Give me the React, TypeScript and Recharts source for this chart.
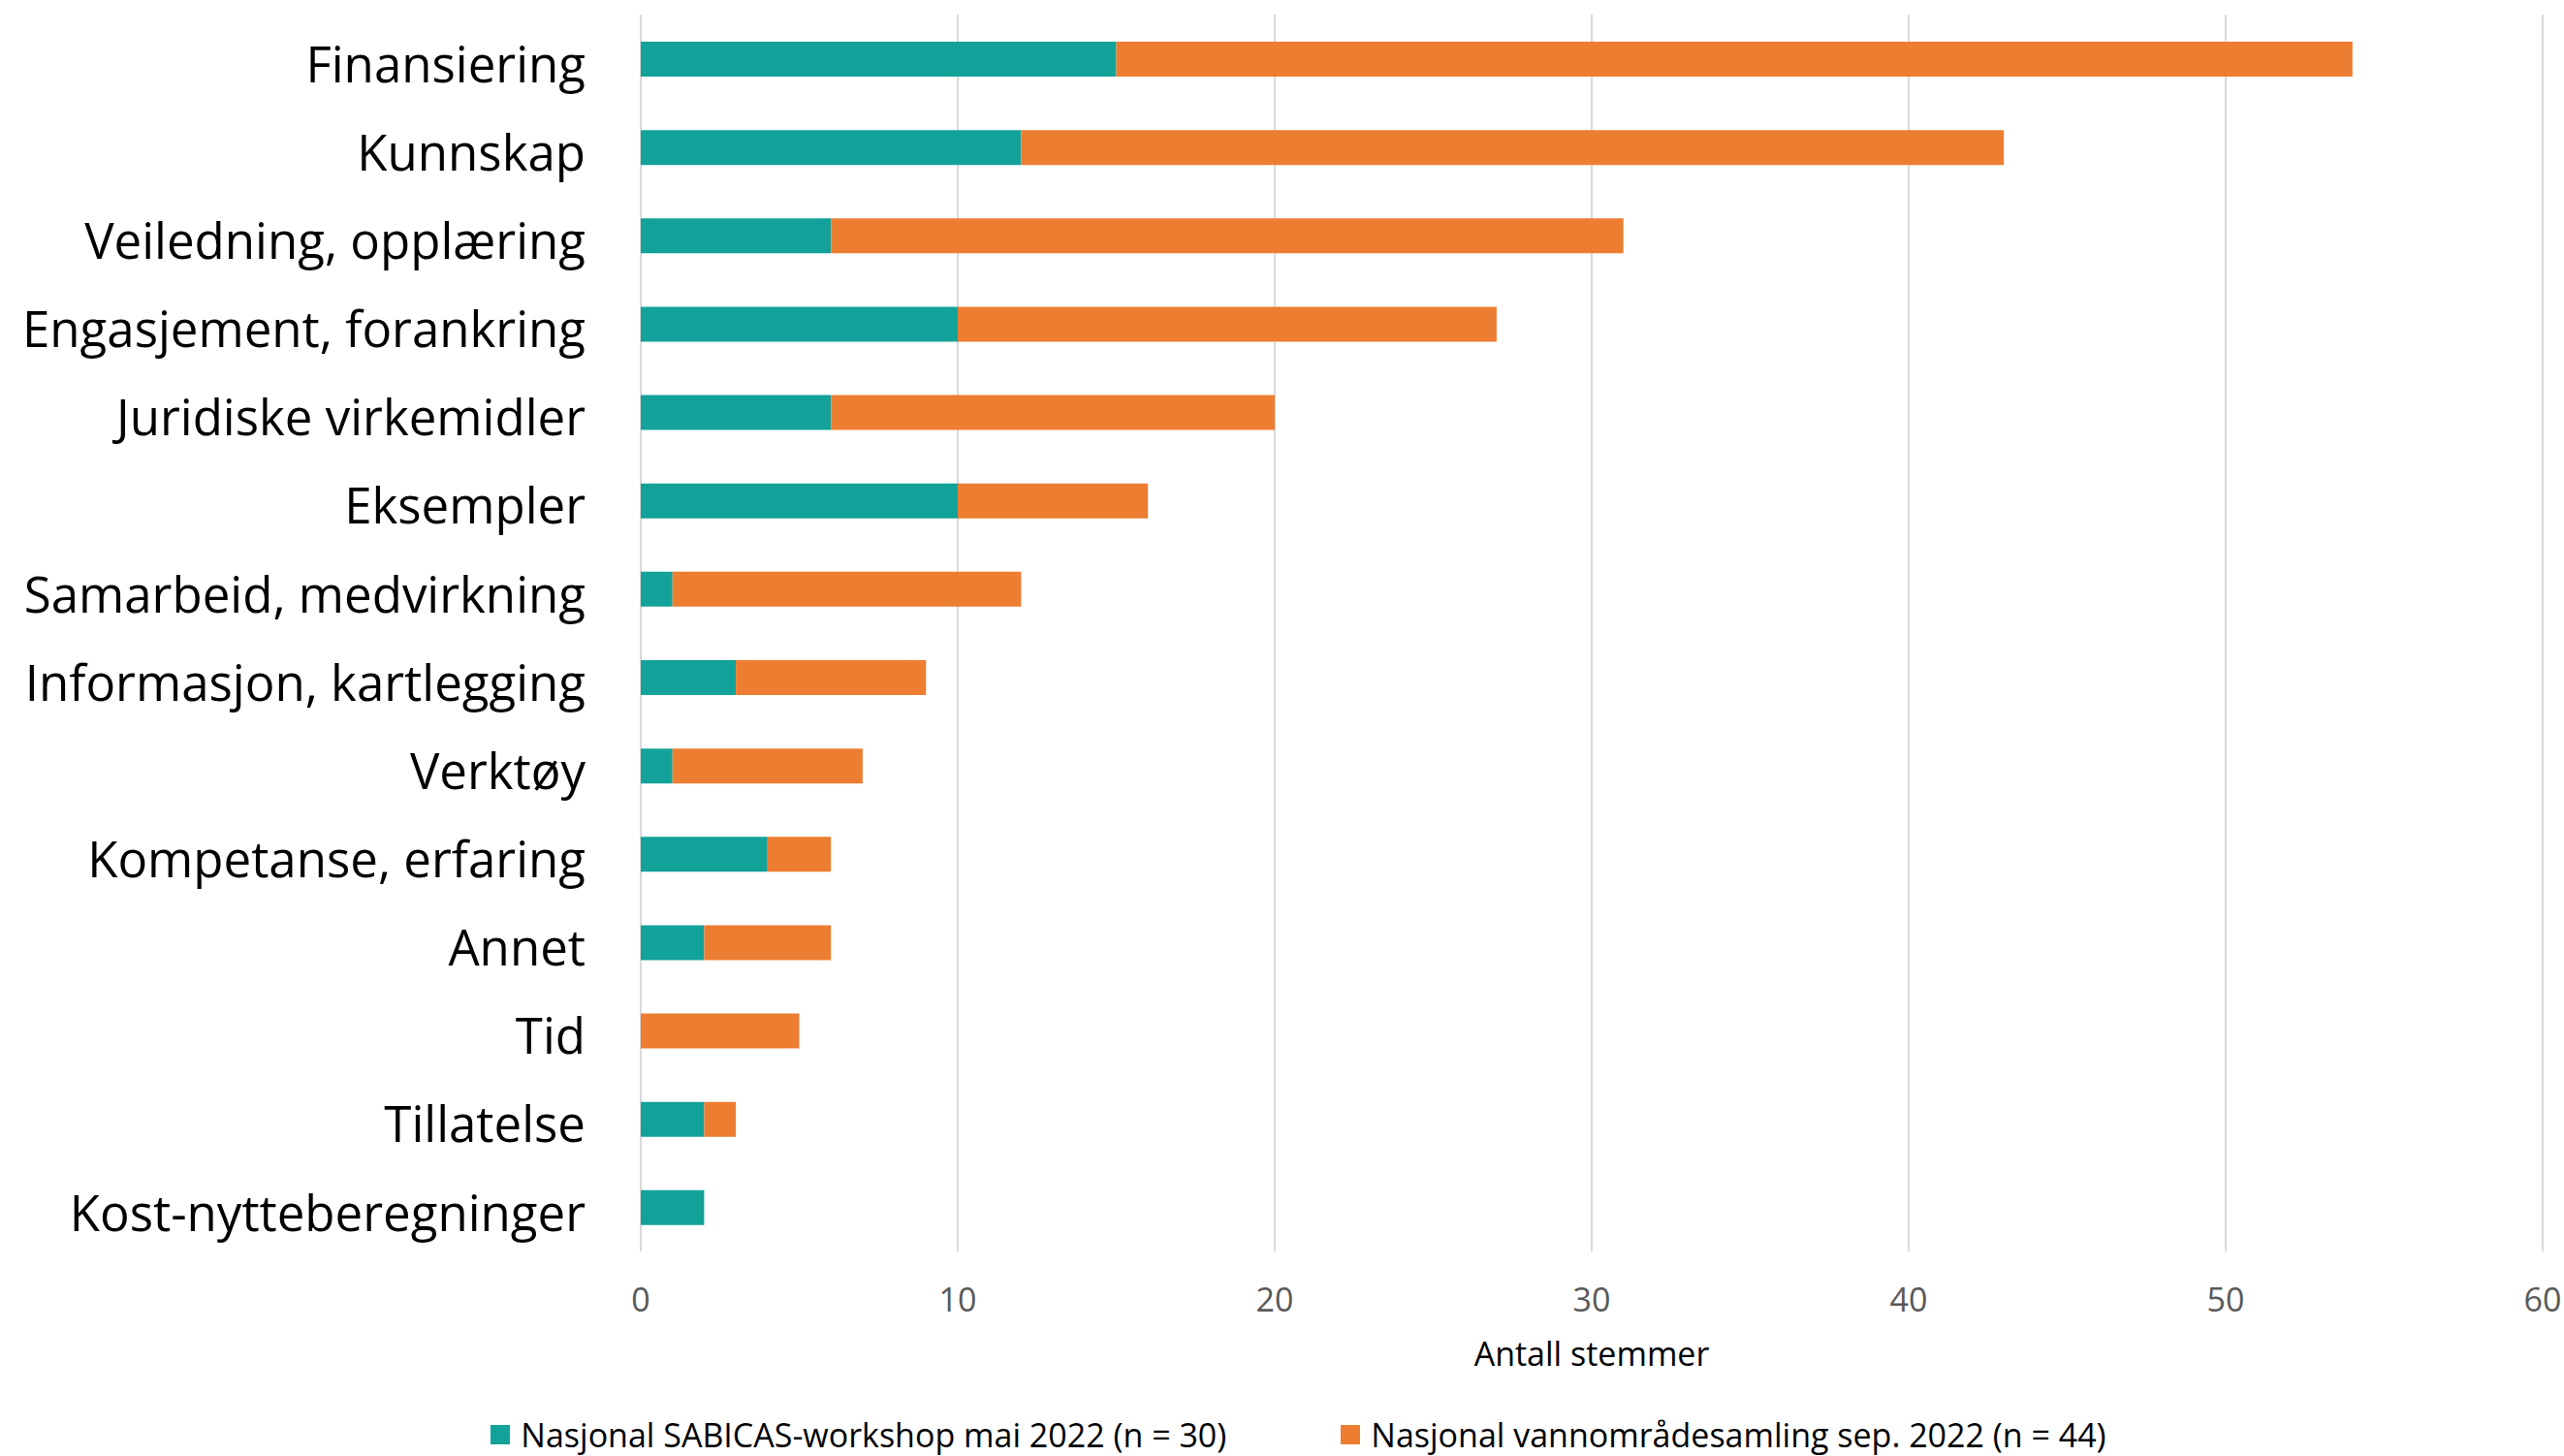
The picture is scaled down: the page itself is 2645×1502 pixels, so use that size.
import React from 'react';
import { BarChart, Bar, XAxis, YAxis, CartesianGrid, Legend } from 'recharts';

const categories = [
  'Finansiering',
  'Kunnskap',
  'Veiledning, opplæring',
  'Engasjement, forankring',
  'Juridiske virkemidler',
  'Eksempler',
  'Samarbeid, medvirkning',
  'Informasjon, kartlegging',
  'Verktøy',
  'Kompetanse, erfaring',
  'Annet',
  'Tid',
  'Tillatelse',
  'Kost-nytteberegninger',
];
const workshopValues = [15, 12, 6, 10, 6, 10, 1, 3, 1, 4, 2, 0, 2, 2];
const samlingValues = [39, 31, 25, 17, 14, 6, 11, 6, 6, 2, 4, 5, 1, 0];
const xTicks = [0, 10, 20, 30, 40, 50, 60];
const seriesNames = [
  'Nasjonal SABICAS-workshop mai 2022 (n = 30)',
  'Nasjonal vannområdesamling sep. 2022 (n = 44)',
];
const seriesColors = ['#13A29A', '#ED7D31'];

const data = categories.map((name, i) => ({
  name,
  workshop: workshopValues[i],
  samling: samlingValues[i],
}));

const FONT = "'Open Sans', sans-serif";

const LegendContent = (props: any) => {
  const payload = props.payload || [];
  return (
    <div
      style={{
        height: 93,
        boxSizing: 'border-box',
        display: 'flex',
        alignItems: 'flex-end',
        justifyContent: 'center',
        paddingBottom: 2,
        paddingLeft: 56,
        fontFamily: FONT,
        fontSize: 34,
        lineHeight: '40px',
        color: '#000',
      }}
    >
      {payload.map((p: any, i: number) => (
        <div
          key={i}
          style={{ display: 'flex', alignItems: 'center', marginRight: i === 0 ? 118 : 0 }}
        >
          <span
            style={{
              display: 'inline-block',
              width: 20,
              height: 20,
              background: p.color,
              marginRight: 11,
            }}
          />
          <span>{p.value}</span>
        </div>
      ))}
    </div>
  );
};

export default function App() {
  return (
    <div style={{ position: 'absolute', left: 0, top: 0, width: 2645, height: 1502, background: '#fff' }}>
      <BarChart
        width={2645}
        height={1502}
        data={data}
        layout="vertical"
        margin={{ top: 15, right: 22, left: 0, bottom: 0 }}
        barCategoryGap={0}
        style={{ fontFamily: FONT }}
      >
        <CartesianGrid horizontal={false} stroke="#d9d9d9" strokeWidth={2} />
        <XAxis
          type="number"
          domain={[0, 60]}
          ticks={xTicks}
          axisLine={false}
          tickLine={false}
          tickSize={0}
          tickMargin={38}
          height={118}
          tick={{ fill: '#595959', fontSize: 34, fontFamily: FONT }}
          label={{ value: 'Antall stemmer', position: 'insideBottom', offset: 0, fill: '#000', fontSize: 34, fontFamily: FONT }}
        />
        <YAxis
          type="category"
          dataKey="name"
          width={661}
          axisLine={false}
          tickLine={false}
          tickSize={0}
          tickMargin={57}
          interval={0}
          tick={{ fill: '#000', fontSize: 51, fontFamily: FONT, dy: 6 }}
        />
        <Legend verticalAlign="bottom" content={<LegendContent />} />
        <Bar
          dataKey="workshop"
          name={seriesNames[0]}
          stackId="a"
          fill={seriesColors[0]}
          barSize={36}
          isAnimationActive={false}
        />
        <Bar
          dataKey="samling"
          name={seriesNames[1]}
          stackId="a"
          fill={seriesColors[1]}
          barSize={36}
          isAnimationActive={false}
        />
      </BarChart>
    </div>
  );
}
